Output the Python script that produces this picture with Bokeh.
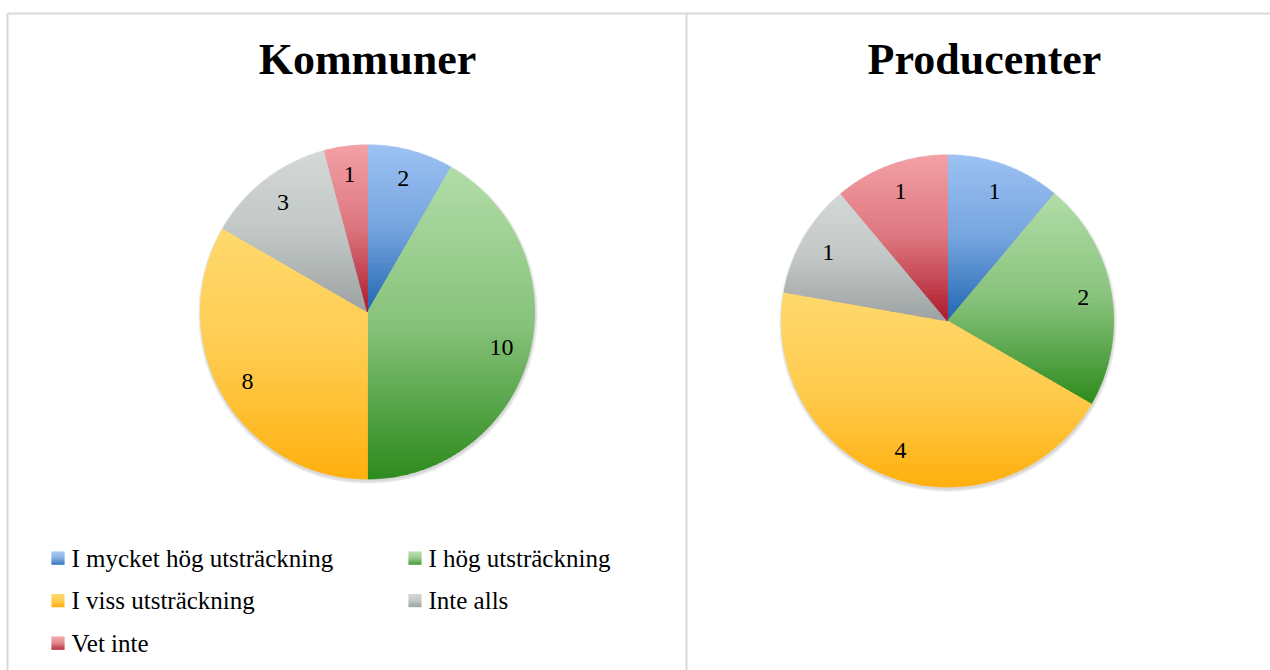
import math
from bokeh.plotting import figure
from bokeh.models import Range1d, ColumnDataSource
from bokeh.core.properties import value
from bokeh.embed import file_html
from bokeh.resources import INLINE

# ---------------- data ----------------
categories = ["I mycket hög utsträckning", "I hög utsträckning",
              "I viss utsträckning", "Inte alls", "Vet inte"]
kommuner = [2, 10, 8, 3, 1]
producenter = [1, 2, 4, 1, 1]
titles = ["Kommuner", "Producenter"]

# ---------------- style ----------------
top_colors = ["#9DC2F3", "#B2DDA8", "#FFD96E", "#D4D9D8", "#F3A1A6"]
bottom_colors = ["#2266B3", "#2E8B1E", "#FFB00E", "#9DA2A2", "#AE1A2C"]
FONT = value("Liberation Serif")
W, H = 1270, 670

p = figure(width=W, height=H, x_range=Range1d(0, W), y_range=Range1d(H, 0),
           x_axis_type=None, y_axis_type=None, toolbar_location=None,
           output_backend="svg", min_border=0, outline_line_color=None)
p.background_fill_color = "white"
p.border_fill_color = "white"


def hex2rgb(h):
    h = h.lstrip("#")
    return [int(h[i:i + 2], 16) for i in (0, 2, 4)]


def rgb2hex(c):
    return "#%02x%02x%02x" % tuple(max(0, min(255, int(round(v)))) for v in c)


def blend(a, b, t):
    return [a[i] + (b[i] - a[i]) * t for i in range(3)]


def grad(top, bottom, t):
    a, b = hex2rgb(top), hex2rgb(bottom)
    mid = blend(a, b, 0.32)
    if t < 0.5:
        return rgb2hex(blend(a, mid, t / 0.5))
    return rgb2hex(blend(mid, b, (t - 0.5) / 0.5))


def clip_half(poly, yv, keep_ge):
    out = []
    n = len(poly)
    for i in range(n):
        P = poly[i]
        Q = poly[(i + 1) % n]
        pin = P[1] >= yv if keep_ge else P[1] <= yv
        qin = Q[1] >= yv if keep_ge else Q[1] <= yv
        if pin:
            out.append(P)
        if pin != qin:
            t = (yv - P[1]) / (Q[1] - P[1])
            out.append((P[0] + t * (Q[0] - P[0]), yv))
    return out


# ---------------- frame lines ----------------
p.segment(x0=[7, 7, 686], y0=[13, 13, 13], x1=[W + 5, 7, 686], y1=[13, H + 5, H + 5],
          line_color="#D9D9D9", line_width=2)


def draw_pie(values, cx, cy, r, title, tx):
    total = float(sum(values))
    # soft shadow
    for k in range(3):
        p.circle(x=[cx + 0.5], y=[cy + 2.0], radius=r + 1 + k,
                 fill_color="black", fill_alpha=0.05, line_color=None)
    xs, ys, cols = [], [], []
    lx, ly, lt = [], [], []
    start = 0.0
    for i, v in enumerate(values):
        a0 = start / total * 2 * math.pi
        a1 = (start + v) / total * 2 * math.pi
        start += v
        n = max(2, int(math.degrees(a1 - a0)))
        poly = [(cx, cy)]
        for j in range(n + 1):
            a = a0 + (a1 - a0) * j / n
            poly.append((cx + r * math.sin(a), cy - r * math.cos(a)))
        ymin = min(q[1] for q in poly)
        ymax = max(q[1] for q in poly)
        nstrips = max(4, int((ymax - ymin) / 2.5))
        for k in range(nstrips):
            y0 = ymin + (ymax - ymin) * k / nstrips
            y1 = ymin + (ymax - ymin) * (k + 1) / nstrips
            part = clip_half(clip_half(poly, y0, True), y1 + 0.4, False)
            if len(part) < 3:
                continue
            xs.append([q[0] for q in part])
            ys.append([q[1] for q in part])
            cols.append(grad(top_colors[i], bottom_colors[i], (k + 0.5) / nstrips))
        am = (a0 + a1) / 2
        lr = 0.83 * r
        lx.append(cx + lr * math.sin(am))
        ly.append(cy - lr * math.cos(am))
        lt.append(str(v))
    src = ColumnDataSource(dict(xs=xs, ys=ys, c=cols))
    p.patches(xs="xs", ys="ys", fill_color="c", line_color="c", line_width=0.8, source=src)
    p.text(x=lx, y=ly, text=lt, text_font=FONT, text_font_size="24px",
           text_align="center", text_baseline="middle", text_color="#000000")
    p.text(x=[tx], y=[59], text=[title], text_font=FONT, text_font_size="44px",
           text_font_style="bold", text_align="center", text_baseline="middle",
           text_color="#000000")


draw_pie(kommuner, 367, 311.5, 167, titles[0], 367)
draw_pie(producenter, 947, 320.5, 166, titles[1], 984)

# ---------------- legend ----------------
leg_x = [57.5, 414.5, 57.5, 414.5, 57.5]
leg_y = [557.5, 557.5, 600, 600, 642.5]
sq = 13
ql, qr, qt, qb, qc = [], [], [], [], []
for i in range(len(categories)):
    for k in range(sq):
        ql.append(leg_x[i] - sq / 2)
        qr.append(leg_x[i] + sq / 2)
        qt.append(leg_y[i] - sq / 2 + k)
        qb.append(leg_y[i] - sq / 2 + k + 1.2)
        qc.append(grad(top_colors[i], bottom_colors[i], (k + 0.5) / sq))
p.quad(left=ql, right=qr, top=qt, bottom=qb, fill_color=qc, line_color=None)
p.text(x=[x + 13.5 for x in leg_x], y=[y for y in leg_y], text=categories,
       text_font=FONT, text_font_size="25px", text_align="left",
       text_baseline="middle", text_color="#000000")

open("out.html", "w").write(file_html(p, INLINE))
